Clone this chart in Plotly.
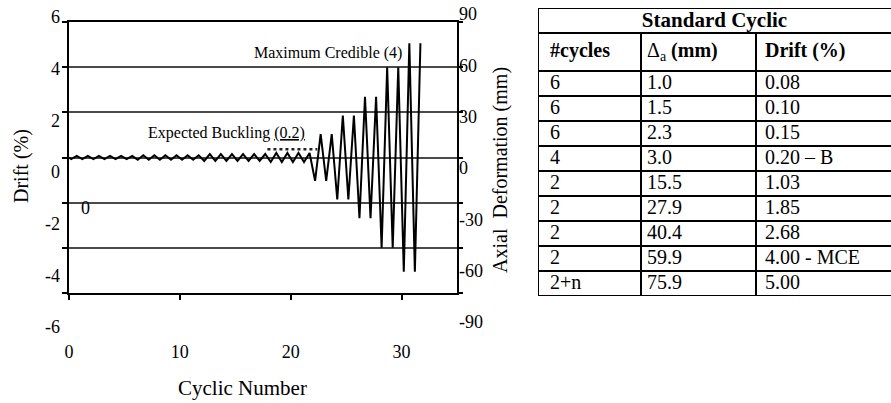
import plotly.graph_objects as go

# Standard cyclic loading protocol
cycles_text = ["6", "6", "6", "4", "2", "2", "2", "2", "2+n"]
cycles_drawn = [6, 6, 6, 4, 2, 2, 2, 2, 2]
delta_mm = [1.0, 1.5, 2.3, 3.0, 15.5, 27.9, 40.4, 59.9, 75.9]
drift_text = ["0.08", "0.10", "0.15", "0.20 \u2013 B", "1.03", "1.85", "2.68", "4.00 - MCE", "5.00"]
table_title = "Standard Cyclic"
table_headers = ["<b>#cycles</b>", "\u0394<sub>a</sub> <b>(mm)</b>", "<b>Drift (%)</b>"]

drift_ticks = [-6, -4, -2, 0, 2, 4, 6]
mm_ticks = [-90, -60, -30, 0, 30, 60, 90]
cycle_ticks = [0, 10, 20, 30]

# dotted marker over the expected-buckling cycles
buckling_cycles = [17.9, 22.4]
buckling_mm = [5.5, 5.5]

W, H = 891, 403
FONT = "Liberation Serif"


def fx(px):
    return px / W


def fy(px):
    return 1 - px / H


# zig-zag history: one trough and one peak per cycle
hist_x = [0.0]
hist_y = [0.0]
k = 0
for n, a in zip(cycles_drawn, delta_mm):
    for _ in range(n):
        hist_x += [k + 0.2, k + 0.7]
        hist_y += [-a, a]
        k += 1

fig = go.Figure()

# carrier for the drift (%) axis so that the mm axis can overlay it
fig.add_trace(go.Scatter(x=[None], y=[None], xaxis="x", yaxis="y",
                         showlegend=False, hoverinfo="skip"))
fig.add_trace(go.Scatter(
    x=hist_x, y=hist_y, mode="lines", xaxis="x", yaxis="y2",
    line=dict(color="black", width=2), showlegend=False, hoverinfo="skip",
))
fig.add_trace(go.Scatter(
    x=buckling_cycles, y=buckling_mm, mode="lines", xaxis="x", yaxis="y2",
    line=dict(color="#222", width=2.5, dash="dot"), showlegend=False, hoverinfo="skip",
))
# carriers for the label-only axes
fig.add_trace(go.Scatter(x=[None], y=[None], xaxis="x3", yaxis="y3",
                         showlegend=False, hoverinfo="skip"))
fig.add_trace(go.Scatter(x=[None], y=[None], xaxis="x4", yaxis="y4",
                         showlegend=False, hoverinfo="skip"))

# ---- protocol table, laid out on its own axes (units = pixels of the table box)
col_w = [103, 115, 135]
col_left = [0, col_w[0], col_w[0] + col_w[1]]
tbl_w = sum(col_w)
title_h, head_h, row_h = 25, 38, 25
n_rows = len(cycles_text)
tbl_h = title_h + head_h + n_rows * row_h
pads = [12, 6, 9]
tbl_top_px, tbl_left_px = 8, 538

text_x, text_y, text_s = [], [], []
# column headers
for c, h in enumerate(table_headers):
    text_x.append(col_left[c] + pads[c])
    text_y.append(title_h + head_h / 2)
    text_s.append(h)
# body cells
columns = [cycles_text, [f"{v:.1f}" for v in delta_mm], drift_text]
for c, col in enumerate(columns):
    for r, val in enumerate(col):
        text_x.append(col_left[c] + pads[c])
        text_y.append(title_h + head_h + (r + 0.5) * row_h)
        text_s.append(val)

fig.add_trace(go.Scatter(
    x=text_x, y=text_y, text=text_s, mode="text", textposition="middle right",
    xaxis="x5", yaxis="y5", showlegend=False, hoverinfo="skip",
    textfont=dict(family=FONT, size=20, color="black"),
))
fig.add_trace(go.Scatter(
    x=[tbl_w / 2], y=[title_h / 2 + 1], text=[f"<b>{table_title}</b>"], mode="text",
    textposition="middle center", xaxis="x5", yaxis="y5", showlegend=False, hoverinfo="skip",
    textfont=dict(family=FONT, size=21, color="black"),
))

line_style = dict(color="black", width=2)
shapes = []
# horizontal rules
for yy in [0, title_h] + [title_h + head_h + r * row_h for r in range(n_rows + 1)]:
    shapes.append(dict(type="line", xref="x5", yref="y5", x0=0, x1=tbl_w, y0=yy, y1=yy,
                       line=line_style))
# outer left edge
shapes.append(dict(type="line", xref="x5", yref="y5", x0=0, x1=0, y0=0, y1=tbl_h, line=line_style))
# column dividers below the title row
for xx in col_left[1:]:
    shapes.append(dict(type="line", xref="x5", yref="y5", x0=xx, x1=xx, y0=title_h, y1=tbl_h,
                       line=line_style))

tick_font = dict(family=FONT, size=18, color="black")
title_font = dict(family=FONT, size=20, color="black")
note_font = dict(family=FONT, size=16, color="black")
hidden = dict(visible=False, showgrid=False, zeroline=False, automargin=False)


def label(text, px_x, px_y, font, angle=0):
    return dict(text=text, xref="paper", yref="paper", x=fx(px_x), y=fy(px_y),
                xanchor="center", yanchor="middle", textangle=angle,
                showarrow=False, font=font)


fig.update_layout(
    width=W, height=H, autosize=False,
    margin=dict(l=0, r=0, t=0, b=0, autoexpand=False),
    paper_bgcolor="white", plot_bgcolor="rgba(0,0,0,0)",
    showlegend=False,
    shapes=shapes,
    xaxis=dict(
        domain=[fx(69), fx(457)], range=[0, 35], anchor="y", automargin=False,
        tickvals=cycle_ticks, ticktext=[str(v) for v in cycle_ticks],
        ticks="outside", ticklen=5, tickwidth=1.5, tickcolor="black",
        showline=True, linecolor="black", linewidth=2, mirror=True,
        showgrid=False, zeroline=False, tickfont=tick_font, ticklabelstandoff=36,
    ),
    yaxis=dict(
        domain=[fy(293), fy(22)], range=[-6, 6], anchor="x", automargin=False,
        tickvals=drift_ticks, showticklabels=False,
        ticks="outside", ticklen=5, tickwidth=1.5, tickcolor="black",
        showline=True, linecolor="black", linewidth=2, mirror=True,
        showgrid=True, gridcolor="#4a4a4a", gridwidth=1.5, zeroline=False,
    ),
    yaxis2=dict(
        overlaying="y", side="right", anchor="x", range=[-90, 90], automargin=False,
        tickvals=mm_ticks, showticklabels=False,
        ticks="outside", ticklen=5, tickwidth=1.5, tickcolor="black",
        showgrid=False, zeroline=False, showline=False,
    ),
    xaxis3=dict(domain=[fx(61), fx(457)], range=[0, 1], anchor="y3", **hidden),
    yaxis3=dict(
        domain=[fy(327), fy(17)], range=[-6, 6], anchor="x3", side="left", automargin=False,
        tickvals=drift_ticks, ticktext=[str(v) for v in drift_ticks],
        ticks="", showline=False, showgrid=False, zeroline=False, tickfont=tick_font,
    ),
    xaxis4=dict(domain=[fx(69), fx(458)], range=[0, 1], anchor="y4", **hidden),
    yaxis4=dict(
        domain=[fy(322), fy(14)], range=[-90, 90], anchor="x4", side="right", automargin=False,
        tickvals=mm_ticks, ticktext=[str(v) for v in mm_ticks],
        ticks="", showline=False, showgrid=False, zeroline=False, tickfont=tick_font,
    ),
    xaxis5=dict(domain=[fx(tbl_left_px), fx(tbl_left_px + tbl_w)], range=[0, tbl_w],
                anchor="y5", **hidden),
    yaxis5=dict(domain=[fy(tbl_top_px + tbl_h), fy(tbl_top_px)], range=[tbl_h, 0],
                anchor="x5", **hidden),
    annotations=[
        label("Drift (%)", 21, 166, title_font, -90),
        label("Axial  Deformation (mm)", 500, 170, title_font, -90),
        label("Cyclic Number", 242, 388, dict(family=FONT, size=21, color="black")),
        label("Maximum Credible (4)", 328, 53, note_font),
        label("Expected Buckling <u>(0.2)</u>", 226, 133, note_font),
        label("0", 85, 208, tick_font),
    ],
)

fig.write_html("out.html")
